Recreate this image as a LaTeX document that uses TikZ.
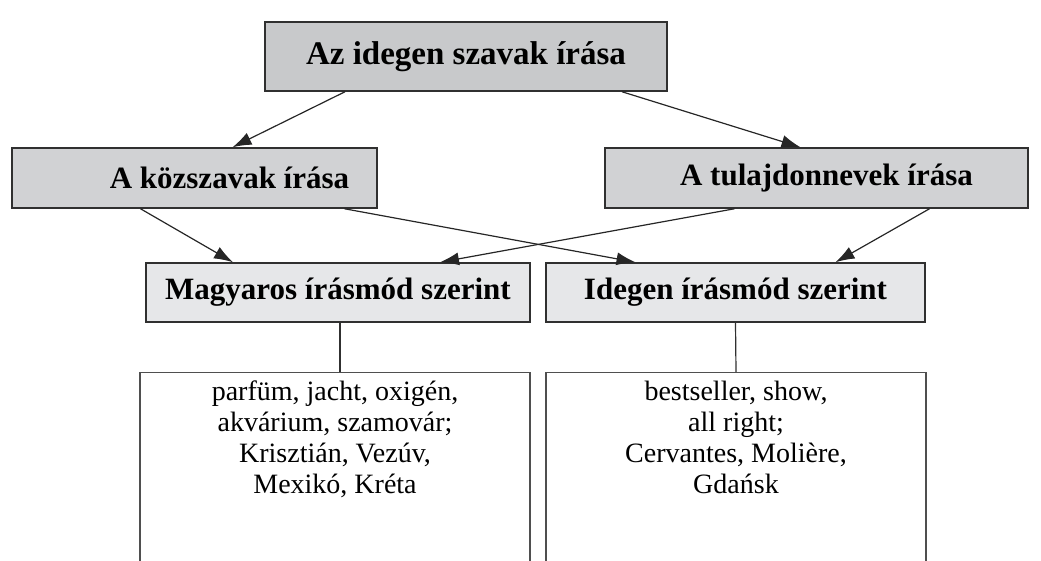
\documentclass[tikz,border=0pt]{standalone}
\usepackage{fontspec}
\setmainfont{Liberation Serif}
\usetikzlibrary{arrows.meta,positioning,calc}
\definecolor{boxline}{HTML}{303030}
\definecolor{fillone}{HTML}{C8C9CB}
\definecolor{filltwo}{HTML}{D1D2D4}
\definecolor{fillthree}{HTML}{E6E7E9}

\begin{document}
\begin{tikzpicture}[
  x=1pt, y=-1pt,
  head/.style={rectangle, draw=boxline, line width=1.5pt, inner sep=0pt,
    font=\bfseries\fontsize{31}{34}\selectfont},
  wordbox/.style={rectangle, draw=boxline!85, line width=1.3pt, inner sep=0pt},
  words/.style={align=center, inner sep=0pt, font=\fontsize{28}{31}\selectfont},
  arr/.style={-{Latex[length=19pt,width=13pt]}, line width=1.2pt, draw=black!85},
  link/.style={line width=1.2pt, draw=boxline}
]
\useasboundingbox (0,0) rectangle (1041,560);

% header rows
\node[head, fill=fillone, minimum width=402pt, minimum height=69pt,
  font=\bfseries\fontsize{33}{36}\selectfont] (title) at (466,56.5) {Az idegen szavak írása};
\node[head, fill=filltwo, minimum width=365pt, minimum height=60pt] (kozszo) at (194.5,178) {\hspace{70pt}A közszavak írása};
\node[head, fill=filltwo, minimum width=423pt, minimum height=60pt] (tulaj) at (816.5,178) {\hspace{20pt}A tulajdonnevek írása};
\node[head, fill=fillthree, minimum width=384pt, minimum height=59pt] (magyar) at (338,292.5) {Magyaros írásmód szerint};
\node[head, fill=fillthree, minimum width=379pt, minimum height=59pt] (idegen) at (735.5,292.5) {Idegen írásmód szerint};

% example boxes (run off the page)
\node[wordbox, fill=white, minimum width=390pt, minimum height=220pt, anchor=north] (pelda1) at (335,372) {};
\node[wordbox, fill=white, minimum width=380pt, minimum height=220pt, anchor=north] (pelda2) at (736,372) {};
\node[words, below=9pt of pelda1.north] (szavak1) {parfüm, jacht, oxigén,\\akvárium, szamovár;\\Krisztián, Vezúv,\\Mexikó, Kréta};
\node[words, below=9pt of pelda2.north] (szavak2) {bestseller, show,\\all right;\\Cervantes, Molière,\\Gdańsk};

\draw[arr] ([xshift=-121pt]title.south) -- ([xshift=38pt]kozszo.north);
\draw[arr] ([xshift=156pt]title.south) -- ([xshift=-16pt]tulaj.north);
\draw[arr] ([xshift=-54pt]kozszo.south) -- ([xshift=-105pt]magyar.north);
\draw[arr] ([xshift=150pt]kozszo.south) -- ([xshift=-100pt]idegen.north);
\draw[arr] ([xshift=-82pt]tulaj.south) -- ([xshift=102pt]magyar.north);
\draw[arr] ([xshift=113pt]tulaj.south) -- ([xshift=100pt]idegen.north);
\draw[link] ([xshift=2pt]magyar.south) -- ([xshift=5pt]pelda1.north);
\draw[link] (idegen.south) -- (pelda2.north);
\end{tikzpicture}
\end{document}
